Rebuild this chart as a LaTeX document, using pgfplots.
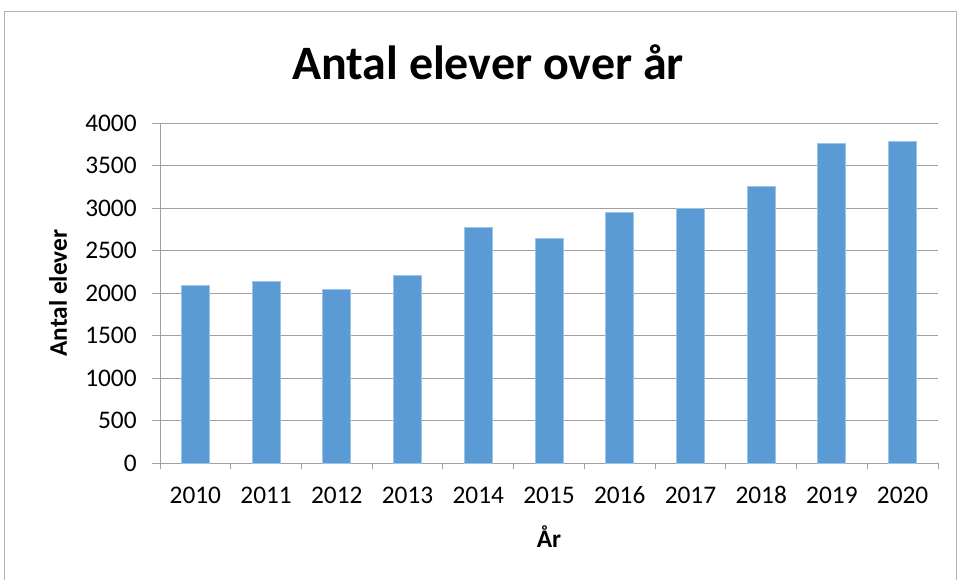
\documentclass[border=0pt]{standalone}
\usepackage{pgfplots}
\pgfplotsset{compat=1.18}
\usepackage{fontspec}
\setmainfont{Carlito}
\definecolor{barblue}{HTML}{5B9BD5}
\definecolor{baredge}{HTML}{9DC3E6}
\definecolor{gridgray}{HTML}{A0A0A0}
\begin{document}
\begin{tikzpicture}
\useasboundingbox (0,0) rectangle (717.75pt,434.25pt);
\draw[gridgray!80, line width=0.75pt] (3pt,-5pt) rectangle (717pt,425.5pt);
\node[font=\fontsize{36}{40}\selectfont\bfseries] at (366pt,387.75pt) {Antal elever over år};
\begin{axis}[
  at={(120pt,86.8pt)}, anchor=south west,
  scale only axis, width=583.5pt, height=255pt,
  xmin=-0.5, xmax=10.5, ymin=0, ymax=4000,
  axis x line*=bottom, axis y line*=left,
  axis line style={gridgray, line width=0.75pt},
  ytick={0,500,...,4000},
  ymajorgrids, grid style={gridgray, line width=0.75pt},
  xtick={0,1,2,3,4,5,6,7,8,9,10},
  xticklabels={2010,2011,2012,2013,2014,2015,2016,2017,2018,2019,2020},
  minor xtick={-0.5,0.5,1.5,2.5,3.5,4.5,5.5,6.5,7.5,8.5,9.5,10.5},
  tick align=outside,
  tick style={gridgray, line width=0.75pt},
  major tick length=6pt, minor tick length=4.5pt,
  x tick style={draw=none},
  minor x tick style={draw=gridgray},
  /pgf/number format/assume math mode=true,
  /pgf/number format/set thousands separator={},
  ticklabel style={font=\fontsize{19}{23}\selectfont},
  xticklabel style={text height=12pt, text depth=3pt, yshift=-9pt},
  yticklabel style={xshift=-8pt},
  xlabel={År}, ylabel={Antal elever},
  label style={font=\fontsize{19}{23}\selectfont\bfseries},
  ylabel style={at={(axis description cs:-0.131,0.5)}, anchor=center},
  xlabel style={at={(axis description cs:0.5,-0.217)}, anchor=center},
]
\addplot[ybar, bar width=21pt, fill=barblue, draw=baredge, line width=0.75pt] coordinates {
(0,2095) (1,2141) (2,2043) (3,2214) (4,2778) (5,2650) (6,2953) (7,2996) (8,3258) (9,3760) (10,3780)
};
\end{axis}
\end{tikzpicture}
\end{document}
